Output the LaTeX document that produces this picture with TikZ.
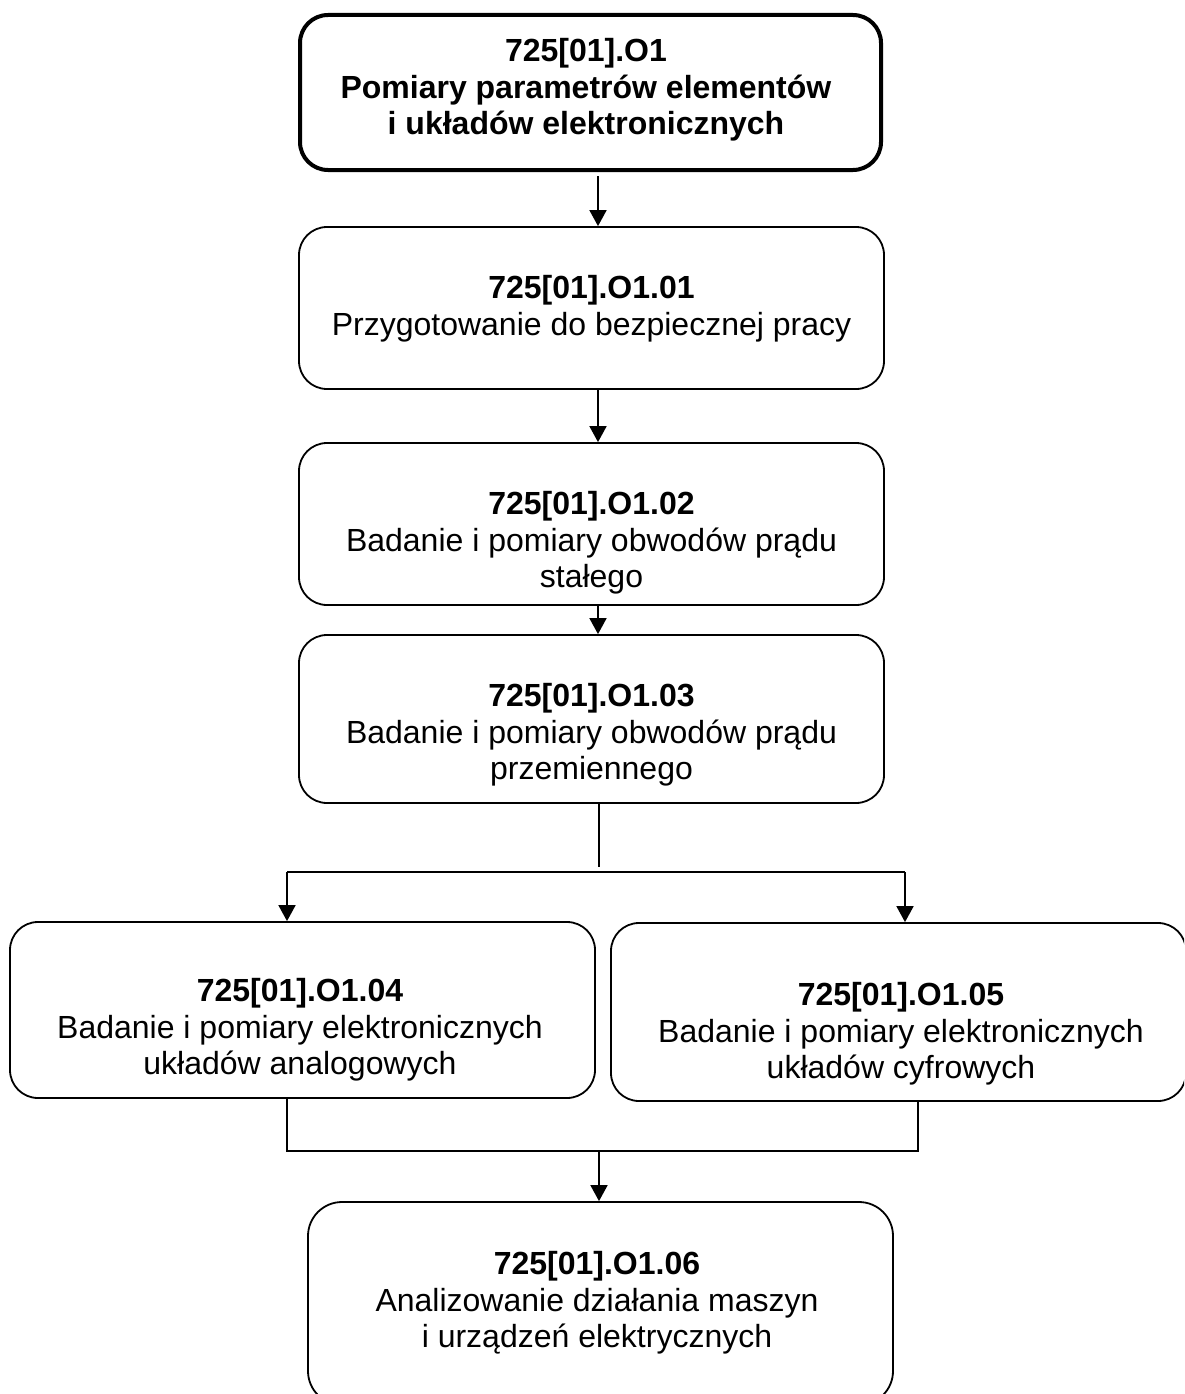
\documentclass[tikz,border=0pt]{standalone}
\usepackage{fontspec}
\setmainfont{Liberation Sans}
\usetikzlibrary{arrows.meta}

\begin{document}
\begin{tikzpicture}[x=1pt,y=-1pt,
  box/.style={draw, line width=1.8pt, rounded corners=28pt, inner sep=0pt},
  mainbox/.style={box, line width=4pt},
  txt/.style={align=center, inner sep=0pt, anchor=north,
    font=\fontsize{32}{36.7}\selectfont},
  link/.style={line width=1.8pt},
  arrow/.style={link, -{Triangle[length=16pt,width=17pt]}}]

  \path[use as bounding box, clip] (0,0) rectangle (1184,1394);

  % module boxes
  \node[mainbox, minimum width=581, minimum height=155] (b1) at (590.5,92.5) {};
  \node[box, minimum width=585, minimum height=162] (b2) at (591.5,308) {};
  \node[box, minimum width=585, minimum height=162] (b3) at (591.5,524) {};
  \node[box, minimum width=585, minimum height=168] (b4) at (591.5,719) {};
  \node[box, minimum width=585, minimum height=176] (b5) at (302.5,1010) {};
  \node[box, minimum width=575, minimum height=178] (b6) at (898.5,1012) {};
  \node[box, rounded corners=34pt, minimum width=585, minimum height=203] (b7) at (600.5,1303.5) {};

  % box captions
  \node[txt] (t1) at (586,38) {\textbf{725[01].O1}\\\textbf{Pomiary parametrów elementów}\\\textbf{i układów elektronicznych}};
  \node[txt] (t2) at (591.5,275) {\textbf{725[01].O1.01}\\Przygotowanie do bezpiecznej pracy};
  \node[txt] (t3) at (591.5,491) {\textbf{725[01].O1.02}\\Badanie i pomiary obwodów prądu\\stałego};
  \node[txt] (t4) at (591.5,683) {\textbf{725[01].O1.03}\\Badanie i pomiary obwodów prądu\\przemiennego};
  \node[txt] (t5) at (300,978) {\textbf{725[01].O1.04}\\Badanie i pomiary elektronicznych\\układów analogowych};
  \node[txt] (t6) at (901,982) {\textbf{725[01].O1.05}\\Badanie i pomiary elektronicznych\\układów cyfrowych};
  \node[txt] (t7) at (597,1251) {\textbf{725[01].O1.06}\\Analizowanie działania maszyn\\i urządzeń elektrycznych};

  % routing points
  \coordinate (ax) at (598,0);
  \coordinate (splitend) at (599,867);
  \coordinate (sl) at (287,872);
  \coordinate (sr) at (905,872);
  \coordinate (jl) at (287,1151);
  \coordinate (jr) at (918,1151);
  \coordinate (jm) at (599,1151);

  % main chain
  \draw[arrow, shorten <=4pt] (b1.south -| ax) -- (b2.north -| ax);
  \draw[arrow] (b2.south -| ax) -- (b3.north -| ax);
  \draw[arrow] (b3.south -| ax) -- (b4.north -| ax);

  % split into two branches
  \draw[link] (b4.south -| splitend) -- (splitend);
  \draw[link] (sl) -- (sr);
  \draw[arrow] (sl) -- (sl |- b5.north);
  \draw[arrow] (sr) -- (sr |- b6.north);

  % merge of the branches
  \draw[link] (jl |- b5.south) -- (jl) -- (jr) -- (jr |- b6.south);
  \draw[arrow] (jm) -- (jm |- b7.north);
\end{tikzpicture}
\end{document}
